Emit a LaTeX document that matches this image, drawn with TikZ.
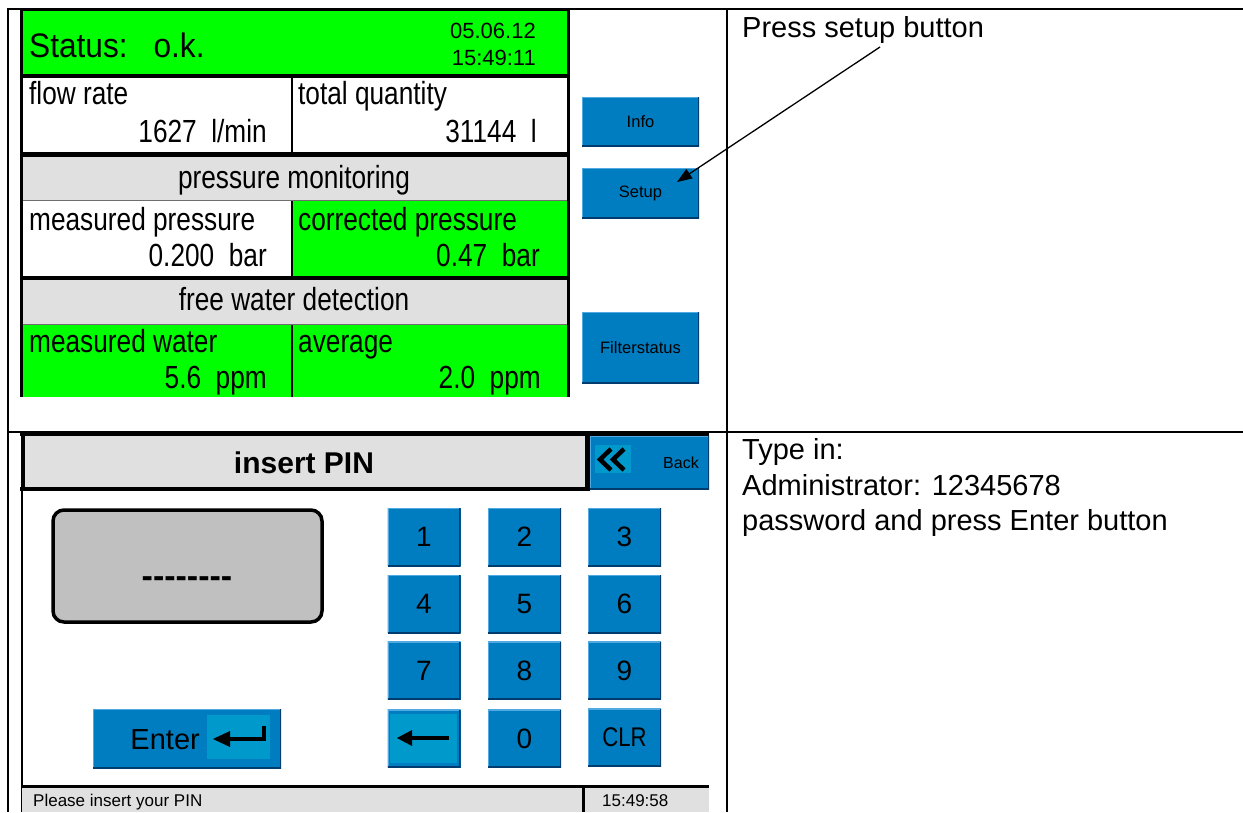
\documentclass[tikz,border=0pt]{standalone}
\usepackage{fontspec}
\setmainfont{Liberation Sans}
\newfontfamily\scrfont[FakeStretch=0.82]{Liberation Sans}
\newfontfamily\statfont[FakeStretch=0.93]{Liberation Sans}
\usetikzlibrary{arrows.meta}
\definecolor{btnblue}{RGB}{0,125,192}
\definecolor{btndark}{RGB}{0,60,110}
\definecolor{btnlight}{RGB}{80,170,225}
\definecolor{btninner}{RGB}{0,153,204}
\definecolor{scrgreen}{RGB}{0,255,0}
\definecolor{scrgray}{RGB}{224,224,224}
\definecolor{pingray}{RGB}{192,192,192}
\definecolor{thingray}{RGB}{110,110,110}
\tikzset{
  lbl/.style={font=\scrfont\fontsize{32}{36}\selectfont, inner sep=0pt},
  docfont/.style={font=\fontsize{29}{35}\selectfont, inner sep=0pt},
  btn/.style={fill=btnblue, draw=none, inner sep=0pt,
    path picture={
      \draw[btnlight, line width=2.5pt] (path picture bounding box.south west) |- (path picture bounding box.north east);
      \draw[btndark, line width=3pt] (path picture bounding box.south west) -| (path picture bounding box.north east);
    }},
  smallbtn/.style={btn, minimum width=117pt, font=\fontsize{16.5}{20}\selectfont},
  keybtn/.style={btn, minimum width=73pt, minimum height=58pt, font=\fontsize{28}{32}\selectfont},
  thick4/.style={line width=4pt},
}
\begin{document}
\begin{tikzpicture}[x=1pt, y=-1pt]
\useasboundingbox (0,0) rectangle (1243,812);
\fill[white] (0,0) rectangle (1243,812);

% ================= top screenshot =================
\fill[scrgreen] (22,10) rectangle (567,75);
\fill[white] (22,78) rectangle (567,152);
\fill[scrgray] (22,157) rectangle (567,200);
\fill[white] (22,201) rectangle (292,276);
\fill[scrgreen] (292,201) rectangle (567,276);
\fill[scrgray] (22,280) rectangle (567,324);
\fill[scrgreen] (22,325) rectangle (567,397);
\draw[thingray, line width=1.2pt] (22,200.5) -- (567,200.5);
\draw[thingray, line width=1.2pt] (22,324.5) -- (567,324.5);
\draw[line width=1.2pt] (292,78) -- (292,152);
\draw[line width=1.2pt] (292,201) -- (292,276);
\draw[line width=1.2pt] (292,325) -- (292,397);
\draw[line width=3pt] (20,9.5) -- (570,9.5);
\draw[thick4] (20,76) -- (570,76);
\draw[line width=5pt] (20,154.5) -- (570,154.5);
\draw[thick4] (20,278) -- (570,278);
\draw[line width=3pt] (21,8) -- (21,397);
\draw[line width=3pt] (568.5,8) -- (568.5,397);

\node[font=\statfont\fontsize{34}{38}\selectfont, inner sep=0pt, anchor=base west] (status) at (29,57) {Status:\hspace{26pt}o.k.};
\node[font=\fontsize{22}{26}\selectfont, inner sep=0pt, anchor=base east] (date) at (536,38) {05.06.12};
\node[font=\fontsize{22}{26}\selectfont, inner sep=0pt, anchor=base east] (time) at (536,65) {15:49:11};

\node[lbl, anchor=base west] (flow) at (29,104) {flow rate};
\node[lbl, anchor=base east] (flowv) at (267,142) {1627~~l/min};
\node[lbl, anchor=base west] (total) at (298,104) {total quantity};
\node[lbl, anchor=base east] (totalv) at (537,142) {31144~~l};
\node[lbl, anchor=base] (pmon) at (294,188) {pressure monitoring};
\node[lbl, anchor=base west] (mp) at (29,230) {measured pressure};
\node[lbl, anchor=base east] (mpv) at (267,266) {0.200~~bar};
\node[lbl, anchor=base west] (cp) at (298,230) {corrected pressure};
\node[lbl, anchor=base east] (cpv) at (540,266) {0.47~~bar};
\node[lbl, anchor=base] (fwd) at (294,310) {free water detection};
\node[lbl, anchor=base west] (mw) at (29,352) {measured water};
\node[lbl, anchor=base east] (mwv) at (267,388) {5.6~~ppm};
\node[lbl, anchor=base west] (avg) at (298,352) {average};
\node[lbl, anchor=base east] (avgv) at (541,388) {2.0~~ppm};

\node[smallbtn, minimum height=49pt] (info) at (640.5,121.5) {Info};
\node[smallbtn, minimum height=50pt] (setup) at (640.5,193) {Setup};
\node[smallbtn, minimum height=71pt] (filter) at (640.5,347.5) {Filterstatus};

% ================= bottom screenshot =================
\fill[scrgray] (22,436) rectangle (585,487);
\node[font=\bfseries\fontsize{30}{34}\selectfont, inner sep=0pt, anchor=base] (pintitle) at (304,473) {insert PIN};
\node[btn, minimum width=119pt, minimum height=53pt] (back) at (649.5,462.5) {};
\fill[btninner] (595,445) rectangle (631,473);
\draw[line width=4.5pt, line join=miter] (611,449) -- (600,459.5) -- (611,470);
\draw[line width=4.5pt, line join=miter] (624,449) -- (613,459.5) -- (624,470);
\node[font=\fontsize{16}{19}\selectfont, inner sep=0pt, anchor=base west] (backlbl) at (663,468) {Back};
\draw[line width=3pt] (20,434.5) -- (709,434.5);
\draw[line width=4pt] (20,489) -- (590,489);
\draw[line width=3.5pt] (23,433) -- (23,491);
\draw[line width=5pt] (587.5,433) -- (587.5,491);
\draw[line width=1.2pt] (22,491) -- (22,812);

\draw[line width=3.5pt, rounded corners=11pt, fill=pingray] (53,510) rectangle (322,622);
\node[font=\bfseries\fontsize{34}{38}\selectfont, inner sep=0pt] (pin) at (187,582) {-\kern0pt-\kern0pt-\kern0pt-\kern0pt-\kern0pt-\kern0pt-\kern0pt-};

\node[keybtn] (k1) at (424,537) {1};
\node[keybtn] (k2) at (524.5,537) {2};
\node[keybtn] (k3) at (624.5,537) {3};
\node[keybtn] (k4) at (424,604) {4};
\node[keybtn] (k5) at (524.5,604) {5};
\node[keybtn] (k6) at (624.5,604) {6};
\node[keybtn] (k7) at (424,670.5) {7};
\node[keybtn] (k8) at (524.5,670.5) {8};
\node[keybtn] (k9) at (624.5,670.5) {9};
\node[keybtn] (kbs) at (424,738.5) {};
\node[keybtn] (k0) at (524.5,738.5) {0};
\node[keybtn, font=\scrfont\fontsize{27}{30}\selectfont] (kclr) at (624.5,737.5) {CLR};
\fill[btninner] (390,714) rectangle (457,763);
\draw[line width=4pt] (408,738) -- (449,738);
\fill (397,738) -- (412,730) -- (412,746) -- cycle;

\node[btn, minimum width=188pt, minimum height=59pt] (enter) at (187,738.5) {};
\node[font=\fontsize{29}{33}\selectfont, inner sep=0pt, anchor=base east] (enterlbl) at (200,749) {Enter};
\fill[btninner] (207,715) rectangle (270,759);
\draw[line width=4pt] (264,726) -- (264,738.5) -- (226,738.5);
\fill (213,739) -- (230,731) -- (230,747) -- cycle;

\fill[scrgray] (22,787) rectangle (709,812);
\draw[line width=3pt] (22,786) -- (709,786);
\draw[line width=3pt] (583.5,785) -- (583.5,812);
\node[font=\fontsize{17}{20}\selectfont, inner sep=0pt, anchor=base west] (statusmsg) at (33,806) {Please insert your PIN};
\node[font=\fontsize{17}{20}\selectfont, inner sep=0pt, anchor=base west] (clock) at (602,806) {15:49:58};

% ================= table =================
\draw[line width=2pt] (7,9) -- (1243,9);
\draw[line width=2pt] (7,432) -- (1243,432);
\draw[line width=2pt] (7.5,8) -- (7.5,812);
\draw[line width=2pt] (727,8) -- (727,812);

\node[docfont, anchor=base west] (press) at (742,37) {Press setup button};
\node[docfont, anchor=base west] (tin1) at (742,459) {Type in:};
\node[docfont, anchor=base west] (tin2) at (742,495) {Administrator: 12345678};
\node[docfont, anchor=base west] (tin3) at (742,530) {password and press Enter button};

\coordinate (arrowstart) at (880,47);
\coordinate (arrowtip) at (677,182);
\draw[line width=1.3pt, -{Triangle[length=15pt,width=11pt]}] (arrowstart) -- (arrowtip);
\end{tikzpicture}
\end{document}
